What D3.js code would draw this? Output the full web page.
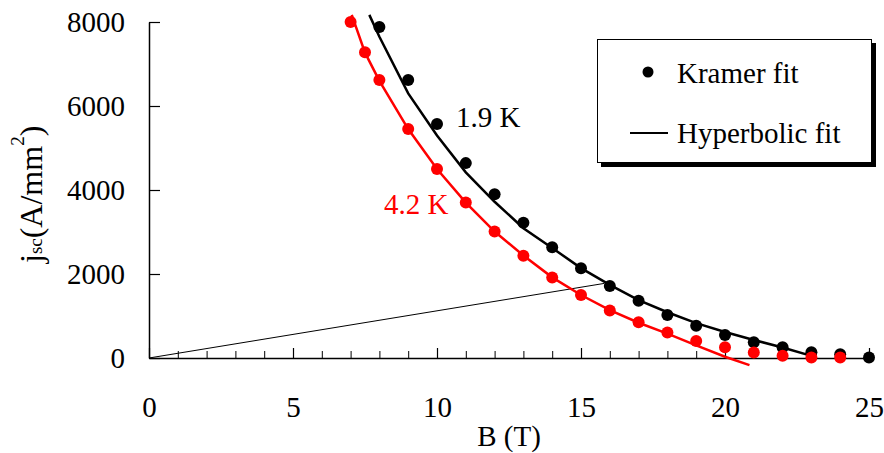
<!DOCTYPE html>
<html>
<head>
<meta charset="utf-8">
<script src="https://cdn.jsdelivr.net/npm/d3@7"></script>
<style>
  html, body { margin: 0; padding: 0; background: #fff; }
  svg { display: block; }
  svg text { font-family: "Liberation Serif", "Times New Roman", Times, serif; }
</style>
</head>
<body>
<svg id="chart" width="884" height="453"></svg>
<script>
// Kramer fit points, 1.9 K (A/mm²)
const kramerB19 = [8, 9, 10, 11, 12, 13, 14, 15, 16, 17, 18, 19, 20, 21, 22, 23, 24, 25];
const kramerJ19 = [7880, 6620, 5570, 4640, 3900, 3220, 2635, 2135, 1715, 1365, 1025, 770, 550, 375, 255, 135, 90, 10];

// Kramer fit points, 4.2 K (A/mm²)
const kramerB42 = [7, 7.5, 8, 9, 10, 11, 12, 13, 14, 15, 16, 17, 18, 19, 20, 21, 22, 23, 24];
const kramerJ42 = [8000, 7280, 6620, 5450, 4500, 3700, 3010, 2435, 1915, 1500, 1130, 850, 605, 405, 255, 130, 55, 10, 10];

// Hyperbolic fit curves
const hypB19 = [7.65, 8, 9, 10, 11, 12, 13, 14, 15, 16, 17, 18, 19, 20, 21, 22, 23];
const hypJ19 = [8170, 7650, 6300, 5300, 4420, 3720, 3090, 2620, 2140, 1740, 1380, 1090, 830, 620, 430, 250, 50];
const hypB42 = [7.04, 7.5, 8, 9, 10, 11, 12, 13, 14, 15, 16, 17, 18, 19, 20, 20.85];
const hypJ42 = [8170, 7270, 6600, 5450, 4500, 3700, 3010, 2440, 1920, 1500, 1140, 840, 580, 300, 30, -170];

// Load line from the origin
const loadB = [0, 15.8];
const loadJ = [0, 1775];

// Axis ticks
const xMajorTicks = [0, 5, 10, 15, 20, 25];
const xMinorTicks = d3.range(0, 26, 1);
const yTicks = [0, 2000, 4000, 6000, 8000];

const SERIF = "Liberation Serif, Times New Roman, Times, serif";
const svg = d3.select("#chart").attr("font-family", SERIF);
const x = d3.scaleLinear().domain([0, 25]).range([149, 869]);
const y = d3.scaleLinear().domain([0, 8000]).range([358, 22]);

const RED = "#ff0000";
const FONT = 29;

// Axes
const xMinor = svg.append("g").attr("transform", `translate(0,${y(0)})`)
  .call(d3.axisBottom(x).tickValues(xMinorTicks).tickSizeInner(-7).tickSizeOuter(0).tickFormat(""));
xMinor.select(".domain").remove();
xMinor.selectAll(".tick line").attr("stroke", "#000").attr("stroke-width", 1);

const xAxis = svg.append("g").attr("transform", `translate(0,${y(0)})`)
  .call(d3.axisBottom(x).tickValues(xMajorTicks).tickFormat(d3.format("d"))
    .tickSizeInner(-10).tickSizeOuter(0).tickPadding(38));
xAxis.attr("font-family", SERIF).attr("font-size", FONT);
xAxis.select(".domain").attr("stroke", "#000").attr("stroke-width", 1.5);
xAxis.selectAll(".tick line").attr("stroke", "#000").attr("stroke-width", 1.2);
xAxis.selectAll(".tick text").attr("fill", "#000");

const yAxis = svg.append("g").attr("transform", `translate(${x(0)},0)`)
  .call(d3.axisLeft(y).tickValues(yTicks).tickFormat(d3.format("d"))
    .tickSizeInner(-11).tickSizeOuter(0).tickPadding(24));
yAxis.attr("font-family", SERIF).attr("font-size", FONT);
yAxis.select(".domain").attr("stroke", "#000").attr("stroke-width", 1.5);
yAxis.selectAll(".tick line").attr("stroke", "#000").attr("stroke-width", 1.2);
yAxis.selectAll(".tick text").attr("fill", "#000");

// Axis titles
svg.append("text")
  .attr("x", (x(0) + x(25)) / 2).attr("y", 446)
  .attr("text-anchor", "middle").attr("font-size", FONT)
  .text("B (T)");

const yTitle = svg.append("text")
  .attr("transform", "translate(42,263) rotate(-90)")
  .attr("text-anchor", "start").attr("font-size", 32);
yTitle.append("tspan").text("j");
yTitle.append("tspan").attr("font-size", 19).text("sc");
yTitle.append("tspan").text("(A/mm");
yTitle.append("tspan").attr("font-size", 19).attr("dy", -18).text("2");
yTitle.append("tspan").attr("dy", 18).text(")");

// Load line
const pts = (bs, js) => bs.map((b, i) => [b, js[i]]);
const line = d3.line().x(d => x(d[0])).y(d => y(d[1]));

svg.append("path").datum(pts(loadB, loadJ))
  .attr("d", line).attr("fill", "none").attr("stroke", "#000").attr("stroke-width", 1);

// 1.9 K
svg.append("path").datum(pts(hypB19, hypJ19))
  .attr("d", line).attr("fill", "none").attr("stroke", "#000").attr("stroke-width", 2.5);
svg.append("g").selectAll("circle").data(pts(kramerB19, kramerJ19)).join("circle")
  .attr("cx", d => x(d[0])).attr("cy", d => y(d[1])).attr("r", 6).attr("fill", "#000");

// 4.2 K
svg.append("path").datum(pts(hypB42, hypJ42))
  .attr("d", line).attr("fill", "none").attr("stroke", RED).attr("stroke-width", 2.5);
svg.append("g").selectAll("circle").data(pts(kramerB42, kramerJ42)).join("circle")
  .attr("cx", d => x(d[0])).attr("cy", d => y(d[1])).attr("r", 6).attr("fill", RED);

// Curve labels
svg.append("text").attr("x", x(10.66)).attr("y", y(5500))
  .attr("font-size", FONT).attr("fill", "#000").text("1.9 K");
svg.append("text").attr("x", x(8.16)).attr("y", y(3420))
  .attr("font-size", FONT).attr("fill", RED).text("4.2 K");

// Legend
const lg = svg.append("g");
lg.append("rect").attr("x", 601).attr("y", 43).attr("width", 275).attr("height", 124).attr("fill", "#000");
lg.append("rect").attr("x", 597.5).attr("y", 39.5).attr("width", 274).attr("height", 123)
  .attr("fill", "#fff").attr("stroke", "#000").attr("stroke-width", 1);
lg.append("circle").attr("cx", 648).attr("cy", 72).attr("r", 5.5).attr("fill", "#000");
lg.append("text").attr("x", 677).attr("y", 83).attr("font-size", FONT).text("Kramer fit");
lg.append("line").attr("x1", 630).attr("x2", 668).attr("y1", 133).attr("y2", 133)
  .attr("stroke", "#000").attr("stroke-width", 2);
lg.append("text").attr("x", 677).attr("y", 143).attr("font-size", FONT).text("Hyperbolic fit");
</script>
</body>
</html>
